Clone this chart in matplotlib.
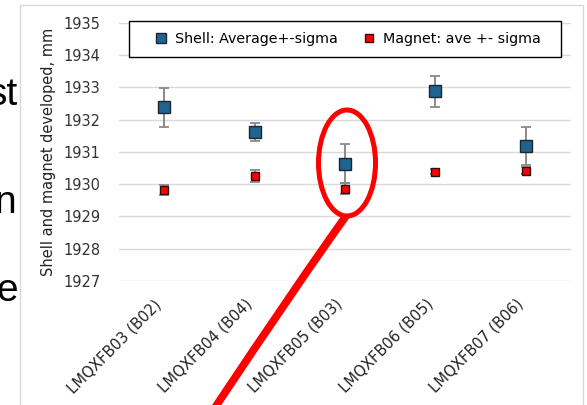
import matplotlib
matplotlib.use("Agg")
import matplotlib.pyplot as plt
from matplotlib.patches import Rectangle, Ellipse, PathPatch
from matplotlib.path import Path
from matplotlib.lines import Line2D
from matplotlib.transforms import ScaledTranslation
import numpy as np

# Chart data
magnets = ["LMQXFB03 (B02)", "LMQXFB04 (B04)", "LMQXFB05 (B03)", "LMQXFB06 (B05)", "LMQXFB07 (B06)"]
shell_avg = [1932.38, 1931.60, 1930.63, 1932.88, 1931.18]
shell_sigma = [0.60, 0.28, 0.60, 0.48, 0.60]
magnet_avg = [1929.81, 1930.25, 1929.86, 1930.39, 1930.42]
magnet_sigma = [0.15, 0.18, 0.17, 0.08, 0.10]
y_ticks = [1927, 1928, 1929, 1930, 1931, 1932, 1933, 1934, 1935]

W, H = 587, 405
fig = plt.figure(figsize=(W / 100, H / 100), dpi=100)
fig.patch.set_facecolor("white")

# Plot area in pixels
L, R, T, B = 119, 571, 22.6, 281
ax = fig.add_axes([L / W, 1 - B / H, (R - L) / W, (B - T) / H])
ax.set_xlim(-0.5, len(magnets) - 0.5)
ax.set_ylim(y_ticks[0], y_ticks[-1])
ax.set_yticks(y_ticks)
ax.set_yticklabels([str(v) for v in y_ticks], fontsize=10.5, color="#333333")
ax.grid(axis="y", color="#d9d9d9", linewidth=1)
ax.set_axisbelow(True)
for s in ax.spines.values():
    s.set_visible(False)
ax.tick_params(axis="y", length=0, pad=13.5)
ax.tick_params(axis="x", length=0, pad=15)

x = np.arange(len(magnets))
ax.set_xticks(x)
ax.set_xticklabels(magnets, rotation=45, ha="right", va="center",
                   rotation_mode="anchor", fontsize=10.6, color="#222222")
shift = ScaledTranslation(-5 / 100, 0, fig.dpi_scale_trans)
for lab in ax.get_xticklabels():
    lab.set_transform(lab.get_transform() + shift)

ax.set_ylabel("Shell and magnet developed, mm", fontsize=10.5, color="#222222")
ax.yaxis.set_label_coords(-0.14, 0.5)

shell_color = "#1E6490"
err_color = "#8a8a8a"

ax.errorbar(x, shell_avg, yerr=shell_sigma, fmt="none", ecolor=err_color,
            elinewidth=1.4, capsize=3.5, capthick=1.3, zorder=3)
ax.errorbar(x, magnet_avg, yerr=magnet_sigma, fmt="none", ecolor=err_color,
            elinewidth=1.4, capsize=3.5, capthick=1.3, zorder=3)
ax.plot(x, shell_avg, ls="none", marker="s", ms=8, mfc=shell_color,
        mec="#1b2633", mew=1.0, zorder=4)
ax.plot(x, magnet_avg, ls="none", marker="s", ms=5.8, mfc="#ff0000",
        mec="#2a1010", mew=1.0, zorder=4)

# Legend with a square black frame
def px_to_ax(px, py):
    return (px - L) / (R - L), (B - py) / (B - T)

lx0, ly0 = px_to_ax(129, 57)
lx1, ly1 = px_to_ax(561, 20.7)
ax.add_patch(Rectangle((lx0, ly0), lx1 - lx0, ly1 - ly0, transform=ax.transAxes,
                       facecolor="white", edgecolor="black", linewidth=1.0,
                       zorder=5, clip_on=False))
handles = [
    Line2D([], [], ls="none", marker="s", ms=7.5, mfc=shell_color, mec="#1b2633", mew=1.0),
    Line2D([], [], ls="none", marker="s", ms=5.5, mfc="#ff0000", mec="#2a1010", mew=1.0),
]
cx, cy = px_to_ax(348, 38.8)
leg = ax.legend(handles, ["Shell: Average+-sigma", "Magnet: ave +- sigma"],
                loc="center", bbox_to_anchor=(cx, cy), ncol=2, frameon=False,
                fontsize=10.3, handlelength=0.8, handletextpad=0.6,
                columnspacing=1.75, borderpad=0)
leg.set_zorder(6)

# Overlay for slide annotations, in pixel coordinates
ov = fig.add_axes([0, 0, 1, 1], zorder=10)
ov.set_xlim(0, W)
ov.set_ylim(H, 0)
ov.axis("off")
ov.patch.set_alpha(0)

# Chart frame
ov.add_patch(Rectangle((19.5, 5), 563.5, 420, facecolor="none",
                       edgecolor="#d9d9d9", linewidth=1.0))

# Slide text running in from the left
for txt, tx, ty in [("st", 18, 105), ("n", 16, 213), ("e", 18, 301)]:
    ov.text(tx, ty, txt, ha="right", va="baseline", fontsize=28,
            family="Liberation Sans", color="black")

# Red highlight ellipse and pointer line
ov.add_patch(Ellipse((347, 163), 57, 106, facecolor="none",
                     edgecolor="#ff0000", linewidth=3.6))
pointer = Path([(346, 216), (300, 280), (212, 412)],
               [Path.MOVETO, Path.CURVE3, Path.CURVE3])
ov.add_patch(PathPatch(pointer, facecolor="none", edgecolor="#ff0000",
                       linewidth=5.6, capstyle="butt"))

fig.savefig("out.png", dpi=100)
